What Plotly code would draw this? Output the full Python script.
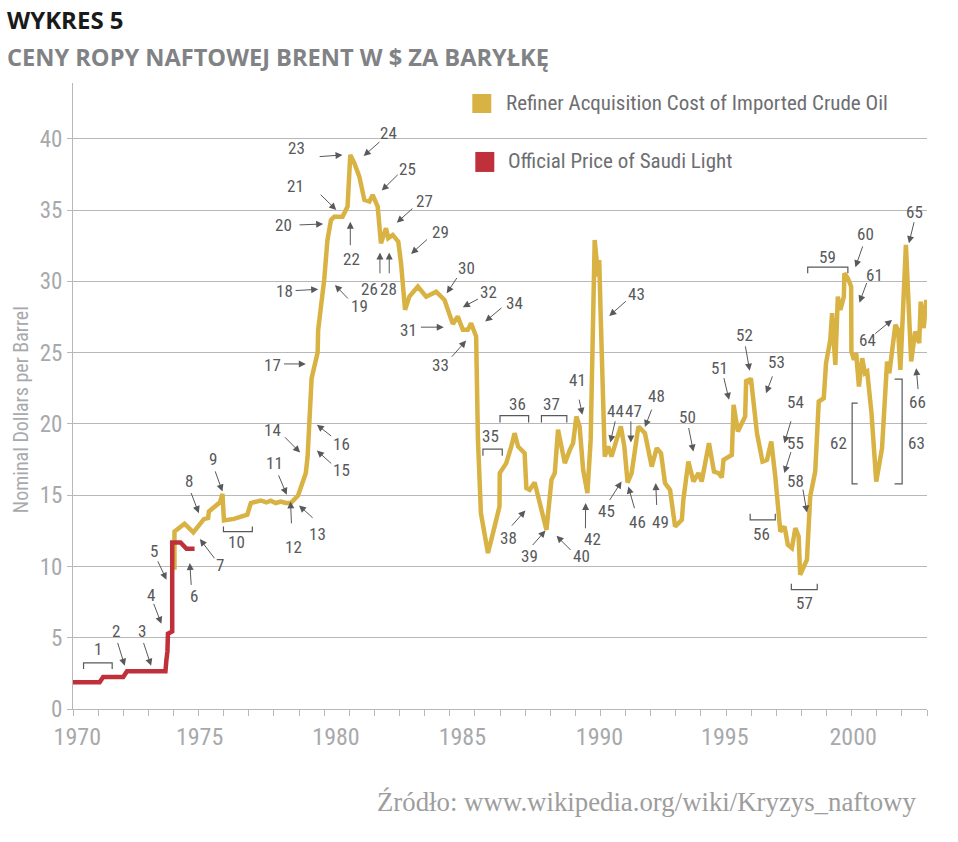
import plotly.graph_objects as go

# ---------------- data ----------------
rac_year = [1974.04, 1974.04, 1974.44, 1974.79, 1975.21, 1975.38, 1975.41, 1975.68, 1975.85, 1975.95,
            1976.01, 1976.41, 1976.94, 1977.08, 1977.27, 1977.47, 1977.70, 1977.87, 1978.07, 1978.27,
            1978.47, 1978.67, 1978.96, 1979.14, 1979.27, 1979.34, 1979.40, 1979.50, 1979.74, 1979.76,
            1980.00, 1980.13, 1980.27, 1980.40, 1980.73, 1980.93, 1981.04, 1981.20, 1981.40, 1981.60,
            1981.80, 1981.93, 1982.13, 1982.26, 1982.46, 1982.55, 1982.73, 1982.95, 1983.06, 1983.22,
            1983.39, 1983.73, 1984.06, 1984.46, 1984.79, 1985.12, 1985.32, 1985.52, 1985.72, 1985.85,
            1986.05, 1986.12, 1986.24, 1986.52, 1986.72, 1986.98, 1986.99, 1987.25, 1987.45, 1987.58,
            1987.72, 1987.98, 1988.05, 1988.18, 1988.38, 1988.58, 1988.85, 1989.05, 1989.18, 1989.31,
            1989.58, 1989.78, 1989.91, 1990.04, 1990.17, 1990.31, 1990.48, 1990.61, 1990.71, 1990.77,
            1990.91, 1990.95, 1991.01, 1991.11, 1991.17, 1991.31, 1991.44, 1991.64, 1991.81, 1991.95,
            1992.08, 1992.24, 1992.51, 1992.77, 1992.88, 1993.04, 1993.24, 1993.41, 1993.57, 1993.77,
            1993.97, 1994.24, 1994.30, 1994.50, 1994.70, 1994.90, 1995.03, 1995.16, 1995.32, 1995.52,
            1995.70, 1995.83, 1995.90, 1996.23, 1996.30, 1996.47, 1996.76, 1996.80, 1996.90, 1996.99,
            1997.23, 1997.45, 1997.63, 1997.80, 1997.96, 1998.16, 1998.33, 1998.46, 1998.62, 1998.76,
            1998.89, 1998.95, 1999.22, 1999.35, 1999.55, 1999.69, 1999.89, 1999.98, 2000.15, 2000.22,
            2000.35, 2000.45, 2000.55, 2000.69, 2000.71, 2000.85, 2000.98, 2000.99, 2001.09, 2001.18,
            2001.29, 2001.42, 2001.53, 2001.62, 2001.69, 2001.79, 2001.98, 2002.21, 2002.41, 2002.50,
            2002.74, 2002.85, 2002.94, 2003.16, 2003.37, 2003.53, 2003.69, 2003.75, 2003.87, 2003.93,
            2003.97, 2004.00]
rac_price = [9.77, 12.45, 13.00, 12.39, 13.32, 13.40, 13.86, 14.26, 14.50, 15.10,
             13.23, 13.34, 13.63, 14.45, 14.52, 14.63, 14.49, 14.61, 14.45, 14.55,
             14.45, 14.45, 14.98, 15.85, 16.55, 17.71, 20.29, 23.21, 25.01, 26.60,
             30.10, 32.90, 34.30, 34.54, 34.54, 35.25, 38.87, 38.29, 37.35, 35.72,
             35.60, 36.07, 35.25, 32.68, 33.73, 33.03, 33.26, 32.79, 31.28, 28.00,
             28.93, 29.64, 28.93, 29.28, 28.70, 27.02, 27.53, 26.60, 26.60, 27.07,
             26.13, 19.00, 13.74, 10.94, 12.34, 14.21, 16.55, 17.25, 18.42, 19.35,
             18.42, 17.95, 15.50, 15.38, 15.89, 14.45, 12.57, 16.08, 16.55, 19.59,
             17.25, 18.18, 18.65, 20.52, 19.82, 16.78, 15.15, 18.88, 30.57, 32.90,
             30.34, 31.50, 27.53, 21.69, 17.71, 18.42, 17.71, 18.88, 19.82, 18.42,
             15.89, 16.55, 19.82, 19.35, 18.42, 17.01, 18.30, 17.95, 15.85, 15.38,
             12.80, 13.27, 14.68, 17.36, 15.96, 16.55, 15.96, 17.01, 18.65, 16.66,
             16.55, 16.24, 17.48, 17.83, 21.34, 19.47, 20.52, 23.09, 22.97, 23.21,
             19.35, 17.36, 17.48, 18.77, 16.31, 12.45, 12.80, 11.52, 11.29, 12.69,
             12.10, 9.42, 10.47, 14.91, 16.66, 21.57, 21.81, 24.26, 25.90, 27.77,
             24.14, 28.93, 28.00, 28.93, 30.57, 30.22, 29.64, 25.08, 24.50, 24.96,
             22.62, 24.61, 23.56, 23.67, 22.62, 20.76, 15.96, 18.30, 24.38, 23.56,
             26.95, 26.60, 23.79, 32.56, 24.38, 26.48, 25.67, 28.58, 26.72, 27.58,
             28.70, 27.50]

saudi_year = [1970.00, 1971.06, 1971.20, 1972.00, 1972.15, 1973.68, 1973.72, 1973.76, 1973.78,
              1973.95, 1973.95, 1974.28, 1974.52, 1974.84]
saudi_price = [1.87, 1.87, 2.24, 2.24, 2.64, 2.64, 3.46, 4.04, 5.28,
               5.44, 11.68, 11.68, 11.24, 11.24]

series_names = ["Refiner Acquisition Cost of Imported Crude Oil", "Official Price of Saudi Light"]
x_tick_labels = ["1970", "1975", "1980", "1985", "1990", "1995", "2000"]
x_tick_label_pos = [1970.17, 1975.04, 1980.47, 1985.50, 1990.96, 1995.95, 2001.06]
x_minor_ticks = list(range(1970, 2005))
y_ticks = [0, 5, 10, 15, 20, 25, 30, 35, 40]

# annotations with arrows: (label, text_x, text_y, tail_x, tail_y, tip_x, tip_y)
arrow_notes = [
    ("2", 1971.72, 5.44, 1971.76, 4.74, 1972.06, 3.04),
    ("3", 1972.75, 5.44, 1972.79, 4.74, 1973.11, 3.04),
    ("4", 1973.11, 8.02, 1973.19, 7.48, 1973.52, 5.98),
    ("5", 1973.24, 11.12, 1973.35, 10.47, 1973.72, 9.07),
    ("6", 1974.81, 7.90, 1974.71, 8.60, 1974.65, 10.24),
    ("7", 1975.84, 10.12, 1975.68, 10.47, 1975.05, 11.92),
    ("8", 1974.61, 16.03, 1974.68, 15.26, 1975.01, 13.74),
    ("9", 1975.59, 17.53, 1975.64, 16.78, 1975.95, 15.26),
    ("11", 1978.04, 17.25, 1978.16, 16.50, 1978.51, 15.03),
    ("12", 1978.76, 11.40, 1978.70, 12.92, 1978.66, 14.56),
    ("13", 1979.74, 12.29, 1979.60, 13.32, 1979.00, 14.28),
    ("14", 1977.96, 19.54, 1978.38, 19.17, 1979.04, 17.99),
    ("15", 1980.69, 16.78, 1980.34, 17.13, 1979.71, 18.13),
    ("16", 1980.69, 18.60, 1980.34, 19.07, 1979.71, 19.94),
    ("17", 1977.96, 24.14, 1978.34, 24.21, 1979.27, 24.21),
    ("18", 1978.43, 29.35, 1978.80, 29.35, 1979.76, 29.45),
    ("19", 1981.42, 28.30, 1981.00, 28.70, 1980.43, 29.75),
    ("20", 1978.40, 33.96, 1978.96, 33.96, 1979.96, 34.03),
    ("21", 1978.87, 36.70, 1979.80, 36.19, 1980.48, 35.01),
    ("22", 1981.07, 31.58, 1981.04, 32.44, 1981.04, 34.19),
    ("23", 1978.90, 39.34, 1979.76, 38.75, 1980.73, 38.87),
    ("24", 1982.55, 40.39, 1982.26, 39.87, 1981.57, 38.80),
    ("25", 1983.33, 37.87, 1982.99, 37.59, 1982.29, 36.37),
    ("26", 1981.80, 29.45, 1982.22, 30.46, 1982.22, 32.02),
    ("27", 1983.99, 35.65, 1983.57, 35.20, 1982.89, 34.12),
    ("28", 1982.55, 29.45, 1982.59, 30.46, 1982.59, 32.02),
    ("29", 1984.63, 33.49, 1984.15, 33.03, 1983.46, 31.93),
    ("30", 1985.65, 30.93, 1985.32, 30.34, 1984.88, 29.17),
    ("31", 1983.35, 26.60, 1983.79, 26.79, 1984.76, 26.79),
    ("32", 1986.54, 29.28, 1986.18, 28.82, 1985.52, 28.19),
    ("33", 1984.63, 24.14, 1985.03, 24.61, 1985.65, 25.85),
    ("34", 1987.56, 28.51, 1987.12, 28.23, 1986.41, 27.18),
    ("38", 1987.34, 12.03, 1987.42, 12.76, 1988.01, 13.93),
    ("39", 1988.18, 10.70, 1988.25, 11.40, 1988.81, 12.52),
    ("40", 1990.24, 10.70, 1989.87, 11.05, 1989.25, 12.15),
    ("41", 1990.07, 23.09, 1990.14, 21.81, 1990.28, 20.64),
    ("42", 1990.68, 11.94, 1990.40, 12.57, 1990.41, 14.45),
    ("43", 1992.44, 29.10, 1992.07, 28.70, 1991.35, 27.58),
    ("44", 1991.60, 20.94, 1991.60, 20.29, 1991.39, 18.70),
    ("45", 1991.24, 13.86, 1991.33, 14.56, 1991.84, 15.96),
    ("46", 1992.47, 13.09, 1992.37, 13.98, 1992.11, 15.61),
    ("47", 1992.31, 20.94, 1992.21, 20.29, 1992.21, 18.70),
    ("48", 1993.24, 21.99, 1993.06, 21.11, 1992.77, 19.78),
    ("49", 1993.37, 13.09, 1993.24, 14.21, 1993.20, 15.85),
    ("50", 1994.47, 20.52, 1994.50, 19.82, 1994.70, 18.06),
    ("51", 1995.72, 23.91, 1995.90, 23.32, 1996.12, 21.69),
    ("52", 1996.74, 26.25, 1996.76, 25.55, 1996.94, 23.74),
    ("53", 1998.00, 24.33, 1997.87, 23.44, 1997.59, 22.16),
    ("54", 1998.76, 21.57, 1998.60, 20.29, 1998.32, 18.65),
    ("55", 1998.76, 18.65, 1998.60, 18.13, 1998.32, 16.55),
    ("58", 1998.76, 16.03, 1999.05, 15.50, 1999.22, 13.79),
    ("60", 2001.55, 33.31, 2001.46, 32.56, 2001.15, 31.00),
    ("61", 2001.92, 30.46, 2001.62, 29.99, 2001.31, 28.51),
    ("64", 2001.62, 25.90, 2001.88, 26.25, 2002.61, 27.30),
    ("65", 2003.52, 34.89, 2003.50, 34.26, 2003.28, 32.68),
    ("66", 2003.61, 21.57, 2003.65, 22.34, 2003.57, 23.91),
]

# horizontal brackets: (label, text_x, text_y, x_start, x_end, y_bar, y_end)
h_brackets = [
    ("1", 1970.98, 4.21, 1970.42, 1971.56, 3.23, 2.81),
    ("10", 1976.52, 11.75, 1975.99, 1977.14, 12.45, 12.81),
    ("35", 1986.62, 19.17, 1986.32, 1987.09, 18.23, 17.76),
    ("36", 1987.68, 21.39, 1987.00, 1988.14, 20.59, 20.10),
    ("37", 1989.05, 21.39, 1988.65, 1989.66, 20.59, 20.10),
    ("56", 1997.43, 12.29, 1996.96, 1997.96, 13.27, 13.70),
    ("57", 1999.11, 7.43, 1998.60, 1999.63, 8.37, 8.79),
    ("59", 2000.02, 31.74, 1999.25, 2000.85, 31.00, 30.58),
]
# vertical brackets: (label, text_x, text_y, x_bar, y_start, y_end, x_end)
v_brackets = [
    ("62", 2000.49, 18.65, 2001.02, 21.46, 15.80, 2001.24),
    ("63", 2003.58, 18.65, 2003.01, 23.14, 15.80, 2002.71),
]

# ---------------- style ----------------
YELLOW = "#d8b243"
RED = "#c0303b"
NOTE = "#58595b"
AXIS_GRAY = "#a7a9ac"
LINE_GRAY = "#b8b8b8"
NARROW = "Roboto Condensed, DejaVu Sans Condensed, Liberation Sans Narrow, Arial Narrow, Roboto, sans-serif"

W, H = 958, 842
L, R, T, B = 72.7, 31.3, 83.0, 132.7
PW, PH = W - L - R, H - T - B


def fx(p):
    return (p - L) / PW


def fy(p):
    return (H - B - p) / PH


fig = go.Figure()
fig.add_trace(go.Scatter(x=rac_year, y=rac_price, mode="lines", name=series_names[0],
                         line=dict(color=YELLOW, width=4.5), hoverinfo="skip", showlegend=False))
fig.add_trace(go.Scatter(x=saudi_year, y=saudi_price, mode="lines", name=series_names[1],
                         line=dict(color=RED, width=4.5), hoverinfo="skip", showlegend=False))
# empty trace so that the label axis (x2) is drawn
fig.add_trace(go.Scatter(x=[], y=[], xaxis="x2", yaxis="y", mode="lines",
                         hoverinfo="skip", showlegend=False))

annotations = []
shapes = []
NOTE_FONT = dict(family=NARROW, size=17, color=NOTE)

for lab, tx, ty, ax_, ay_, x_, y_ in arrow_notes:
    annotations.append(dict(x=x_, y=y_, ax=ax_, ay=ay_, xref="x", yref="y", axref="x", ayref="y",
                            text="", showarrow=True, arrowhead=2, arrowsize=1.4, arrowwidth=1,
                            arrowcolor=NOTE))
    annotations.append(dict(x=tx, y=ty, xref="x", yref="y", text=lab, showarrow=False,
                            font=NOTE_FONT, xanchor="center", yanchor="middle"))

for lab, tx, ty, x1, x2, yb, ye in h_brackets:
    shapes.append(dict(type="path", xref="x", yref="y",
                       path=f"M {x1},{ye} L {x1},{yb} L {x2},{yb} L {x2},{ye}",
                       line=dict(color=NOTE, width=1.2)))
    annotations.append(dict(x=tx, y=ty, xref="x", yref="y", text=lab, showarrow=False,
                            font=NOTE_FONT, xanchor="center", yanchor="middle"))

for lab, tx, ty, xb, y1, y2, xe in v_brackets:
    shapes.append(dict(type="path", xref="x", yref="y",
                       path=f"M {xe},{y1} L {xb},{y1} L {xb},{y2} L {xe},{y2}",
                       line=dict(color=NOTE, width=1.2)))
    annotations.append(dict(x=tx, y=ty, xref="x", yref="y", text=lab, showarrow=False,
                            font=NOTE_FONT, xanchor="center", yanchor="middle"))

# legend (manual)
shapes.append(dict(type="rect", xref="paper", yref="paper", x0=fx(472), x1=fx(491),
                   y0=fy(113), y1=fy(94), fillcolor=YELLOW, line=dict(width=0)))
shapes.append(dict(type="rect", xref="paper", yref="paper", x0=fx(475), x1=fx(494),
                   y0=fy(172), y1=fy(152), fillcolor=RED, line=dict(width=0)))
annotations.append(dict(x=fx(504), y=fy(103), xref="paper", yref="paper", text=series_names[0],
                        showarrow=False, xanchor="left", yanchor="middle",
                        font=dict(family=NARROW, size=21, color="#6d6e71")))
annotations.append(dict(x=fx(506), y=fy(161), xref="paper", yref="paper", text=series_names[1],
                        showarrow=False, xanchor="left", yanchor="middle",
                        font=dict(family=NARROW, size=21, color="#6d6e71")))

# titles
annotations.append(dict(x=fx(5), y=fy(19.5), xref="paper", yref="paper", text="<b>WYKRES 5</b>",
                        showarrow=False, xanchor="left", yanchor="middle",
                        font=dict(family="Open Sans, sans-serif", size=24, color="#1a1a1a")))
annotations.append(dict(x=fx(5), y=fy(57), xref="paper", yref="paper",
                        text="<b>CENY ROPY NAFTOWEJ BRENT W $ ZA BARYŁKĘ</b>",
                        showarrow=False, xanchor="left", yanchor="middle",
                        font=dict(family="Open Sans, sans-serif", size=23.6, color="#808285")))
annotations.append(dict(x=fx(21), y=fy(410), xref="paper", yref="paper",
                        text="Nominal Dollars per Barrel", textangle=-90,
                        showarrow=False, xanchor="center", yanchor="middle",
                        font=dict(family=NARROW, size=20, color=AXIS_GRAY)))
annotations.append(dict(x=fx(918), y=fy(802), xref="paper", yref="paper",
                        text="Źródło: www.wikipedia.org/wiki/Kryzys_naftowy",
                        showarrow=False, xanchor="right", yanchor="middle",
                        font=dict(family="Liberation Serif, Times New Roman, serif", size=26.8,
                                  color="#9d9d9d")))

fig.update_layout(
    width=W, height=H,
    margin=dict(l=L, r=R, t=T, b=B, pad=0),
    paper_bgcolor="white", plot_bgcolor="white",
    showlegend=False,
    annotations=annotations,
    shapes=shapes,
    xaxis=dict(range=[1970, 2004], showgrid=False, zeroline=False,
               showline=True, linecolor=LINE_GRAY, linewidth=1,
               tickmode="array", tickvals=x_minor_ticks, showticklabels=False,
               ticks="outside", ticklen=6, tickcolor=LINE_GRAY, tickwidth=1),
    xaxis2=dict(range=[1970, 2004], overlaying="x", anchor="y", side="bottom",
                showgrid=False, zeroline=False, showline=False,
                tickmode="array", tickvals=x_tick_label_pos, ticktext=x_tick_labels,
                ticks="", ticklabelstandoff=11,
                tickfont=dict(family=NARROW, size=24, color=AXIS_GRAY)),
    yaxis=dict(range=[0, (H - B - T) / 14.26], tickmode="array", tickvals=y_ticks,
               showgrid=True, gridcolor=LINE_GRAY, gridwidth=1, zeroline=False,
               showline=True, linecolor=LINE_GRAY, linewidth=1,
               ticks="outside", ticklen=5, tickcolor=LINE_GRAY,
               tickfont=dict(family=NARROW, size=23, color=AXIS_GRAY)),
)

fig.write_html("out.html", config={"displayModeBar": False},
               post_script="document.body.style.margin='0px';")
